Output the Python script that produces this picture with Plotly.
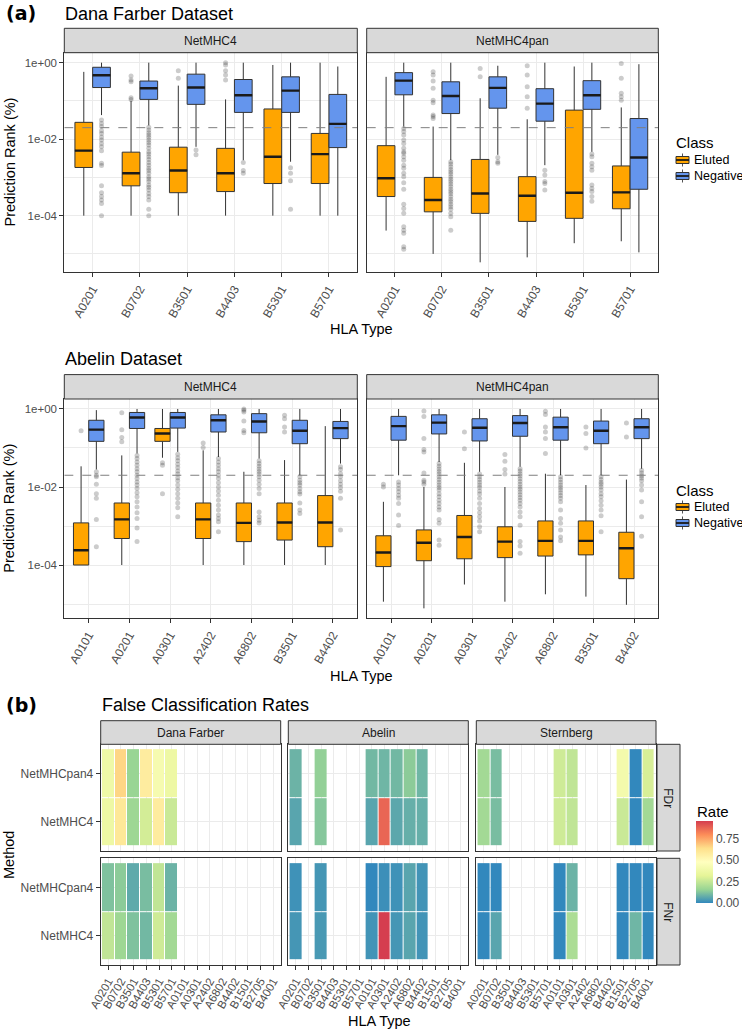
import plotly.graph_objects as go

W, H = 742, 1030

# ---------------- data ----------------
df_hla = ["A0201", "B0702", "B3501", "B4403", "B5301", "B5701"]
ab_hla = ["A0101", "A0201", "A0301", "A2402", "A6802", "B3501", "B4402"]
rank_cut = 0.02

# box stats per allele, log10(rank): lower whisker, q1, median, q3, upper whisker
df_net4_eluted = [
    [-4.0, -2.74, -2.30, -1.56, -0.24],
    [-4.0, -3.22, -2.89, -2.34, -1.0],
    [-4.0, -3.40, -2.82, -2.21, -0.6],
    [-4.0, -3.37, -2.89, -2.24, -0.96],
    [-4.0, -3.16, -2.46, -1.21, -0.06],
    [-4.0, -3.16, -2.39, -1.85, 0.0],
]
df_net4_negative = [
    [-1.37, -0.65, -0.33, -0.12, 0.0],
    [-1.64, -0.96, -0.67, -0.48, 0.0],
    [-2.20, -1.09, -0.65, -0.30, 0.0],
    [-2.55, -1.30, -0.85, -0.44, 0.0],
    [-2.59, -1.30, -0.73, -0.37, 0.0],
    [-4.0, -2.22, -1.60, -0.83, -0.10],
]
df_net4_eluted_out = [
    [],
    [-0.35, -0.45, -0.50, -0.92, -0.96],
    [-0.21, -0.41],
    [0.0, -0.06, -0.21, -0.32, -0.45],
    [],
    [],
]
df_net4_negative_out = [
    [-1.50, -1.59, -1.67, -1.78, -1.85, -1.94, -2.02, -2.11, -2.20, -2.30, -2.63, -2.69,
     -3.22, -3.40, -3.50, -3.59, -3.68, -4.0],
    [-1.69, -1.76, -1.83, -1.89, -1.95, -2.02, -2.09, -2.15, -2.24, -2.33, -2.39, -2.46,
     -2.53, -2.61, -2.68, -2.76, -2.82, -2.89, -2.98, -3.04, -3.11, -3.20, -3.26, -3.33,
     -3.42, -3.50, -3.59, -3.83, -4.0],
    [-2.28, -2.41],
    [-2.61, -2.82, -2.89],
    [-2.75, -2.89, -3.09, -3.83],
    [],
]

df_pan4_eluted = [
    [-4.39, -3.50, -3.02, -2.17, -0.37],
    [-5.00, -3.90, -3.59, -3.00, -1.67],
    [-5.22, -3.94, -3.42, -2.53, -0.93],
    [-5.09, -4.15, -3.48, -2.98, -1.48],
    [-4.72, -4.07, -3.40, -1.24, -0.10],
    [-4.67, -3.82, -3.39, -2.70, -1.17],
]
df_pan4_negative = [
    [-1.67, -0.84, -0.47, -0.26, 0.0],
    [-2.55, -1.33, -0.87, -0.50, 0.0],
    [-2.41, -1.19, -0.66, -0.37, -0.08],
    [-2.68, -1.53, -1.07, -0.68, 0.0],
    [-2.33, -1.22, -0.85, -0.47, 0.0],
    [-4.96, -3.31, -2.48, -1.46, -0.04],
]
df_pan4_eluted_out = [
    [],
    [-0.24, -0.32, -0.48, -0.67, -0.98, -1.05, -1.37, -1.41, -1.46],
    [-0.15, -0.37],
    [-0.08, -0.32, -0.63, -0.89, -1.19],
    [],
    [-0.02, -0.41, -0.80, -0.89, -0.98],
]
df_pan4_negative_out = [
    [-1.72, -1.80, -1.89, -2.02, -2.11, -2.24, -2.33, -2.37, -2.46, -2.55, -2.68, -2.76,
     -2.89, -2.98, -3.14, -3.31, -3.70, -3.81, -3.94, -4.29, -4.38, -4.46, -4.81, -4.88],
    [-2.59, -2.65, -2.72, -2.79, -2.85, -2.91, -2.98, -3.05, -3.11, -3.17, -3.24, -3.31,
     -3.37, -3.43, -3.50, -3.57, -3.63, -3.70, -3.77, -3.83, -3.94, -4.03, -4.38],
    [-2.48, -2.59, -2.63],
    [-2.81, -2.94, -3.11, -3.16, -3.33],
    [-2.39, -2.46, -2.63, -2.72, -2.81, -3.20, -3.29, -3.37, -3.50, -3.62],
    [],
]

ab_net4_eluted = [
    [-4.0, -4.0, -3.62, -2.92, -1.47],
    [-4.0, -3.32, -2.83, -2.41, -1.19],
    [-1.25, -0.83, -0.63, -0.50, 0.0],
    [-4.0, -3.32, -2.83, -2.41, -1.06],
    [-4.0, -3.40, -2.92, -2.41, -1.61],
    [-4.0, -3.36, -2.91, -2.41, -1.31],
    [-4.0, -3.53, -2.91, -2.22, -0.44],
]
ab_net4_negative = [
    [-1.55, -0.83, -0.53, -0.29, -0.03],
    [-1.14, -0.50, -0.22, -0.09, 0.0],
    [-1.10, -0.49, -0.22, -0.09, 0.0],
    [-1.23, -0.59, -0.29, -0.15, 0.0],
    [-1.27, -0.61, -0.32, -0.12, 0.0],
    [-1.70, -0.89, -0.56, -0.29, 0.0],
    [-1.40, -0.76, -0.49, -0.32, 0.0],
]
ab_net4_eluted_out = [
    [-0.56],
    [-0.10, -0.53, -0.73, -0.84],
    [-1.38, -1.44, -2.17],
    [-0.87, -0.99],
    [0.0, -0.03, -0.08, -0.31, -0.55, -0.61],
    [-0.16, -0.25, -0.46, -0.59],
    [],
]
ab_net4_negative_out = [
    [-1.61, -1.70, -1.74, -1.93, -2.17, -2.29, -2.83, -3.53],
    [-1.19, -1.27, -1.36, -1.44, -1.53, -1.61, -1.70, -1.78, -1.87, -1.95, -2.04, -2.15,
     -2.25, -2.38, -2.51, -2.66, -2.81, -3.05, -3.40],
    [-1.16, -1.25, -1.33, -1.42, -1.50, -1.59, -1.67, -1.76, -1.84, -1.95, -2.06, -2.17,
     -2.29, -2.41, -2.53, -2.76],
    [-1.27, -1.36, -1.44, -1.53, -1.61, -1.70, -1.78, -1.89, -2.00, -2.10, -2.21, -2.34,
     -2.47, -2.59, -2.72, -2.81, -2.89, -3.15],
    [-1.33, -1.40, -1.47, -1.54, -1.60, -1.67, -1.74, -1.83, -1.93, -2.04, -2.17, -2.64,
     -2.76, -2.85, -2.92],
    [-1.74, -1.83, -1.89, -1.95, -2.04, -2.12, -2.18, -2.41, -2.59, -2.68],
    [-1.48, -1.55, -1.66, -1.74, -1.84, -1.93, -2.01, -2.11, -2.29, -3.10],
]

ab_pan4_eluted = [
    [-4.94, -4.04, -3.68, -3.25, -2.38],
    [-5.11, -3.89, -3.43, -3.10, -2.00],
    [-4.50, -3.84, -3.28, -2.73, -1.38],
    [-4.94, -3.81, -3.40, -3.02, -2.00],
    [-4.75, -3.77, -3.38, -2.87, -1.66],
    [-4.81, -3.74, -3.38, -2.87, -1.95],
    [-5.02, -4.35, -3.57, -3.16, -1.81],
]
ab_pan4_negative = [
    [-1.70, -0.80, -0.44, -0.19, 0.0],
    [-1.36, -0.64, -0.35, -0.15, 0.0],
    [-1.61, -0.82, -0.48, -0.25, 0.0],
    [-1.48, -0.70, -0.36, -0.17, 0.0],
    [-1.70, -0.80, -0.47, -0.21, 0.0],
    [-1.70, -0.89, -0.56, -0.31, 0.0],
    [-1.53, -0.76, -0.47, -0.25, 0.0],
]
ab_pan4_eluted_out = [
    [-1.93, -2.00],
    [-0.05, -0.19, -0.76, -1.04, -1.10, -1.64, -1.83, -1.87, -1.93],
    [-0.59, -1.02],
    [-1.17, -1.34, -1.55, -1.67],
    [-0.06, -0.14, -0.46, -0.59, -0.76, -1.14],
    [-0.46, -0.63, -1.00],
    [-0.36, -0.72],
]
ab_pan4_negative_out = [
    [-1.87, -1.95, -2.04, -2.12, -2.21, -2.29, -2.42, -2.72, -2.99],
    [-1.40, -1.47, -1.54, -1.60, -1.67, -1.74, -1.81, -1.88, -1.95, -2.01, -2.08, -2.17,
     -2.25, -2.34, -2.42, -2.51, -2.59, -2.83, -2.93, -3.36, -3.49],
    [-1.67, -1.74, -1.81, -1.88, -1.95, -2.01, -2.10, -2.18, -2.29, -2.42, -2.55, -2.66,
     -2.76, -2.87, -3.02, -3.15],
    [-1.53, -1.59, -1.66, -1.72, -1.79, -1.86, -1.93, -2.00, -2.06, -2.13, -2.20, -2.27,
     -2.34, -2.42, -2.51, -2.64, -2.76, -2.98, -3.40, -3.51, -3.70],
    [-1.74, -1.81, -1.88, -1.95, -2.01, -2.08, -2.15, -2.22, -2.29, -2.38, -2.59, -2.81,
     -2.93, -3.10, -3.28, -3.38],
    [-1.74, -1.81, -1.88, -1.93, -2.00, -2.08, -2.17, -2.25, -2.35, -2.47, -2.59, -2.74, -3.15],
    [-1.57, -1.64, -1.71, -1.77, -1.84, -1.95, -2.08, -2.38, -2.76, -3.26],
]

# heatmap: false classification rates
hla_all = ["A0201", "B0702", "B3501", "B4403", "B5301", "B5701", "A0101",
           "A0301", "A2402", "A6802", "B4402", "B1501", "B2705", "B4001"]
methods = ["NetMHC4", "NetMHCpan4"]
N = None
df_fdr_net4 = [0.37, 0.60, 0.17, 0.28, 0.58, 0.26, N, N, N, N, N, N, N, N]
df_fdr_pan4 = [0.38, 0.66, 0.16, 0.58, 0.42, 0.37, N, N, N, N, N, N, N, N]
df_fnr_net4 = [0.24, 0.17, 0.12, 0.10, 0.27, 0.18, N, N, N, N, N, N, N, N]
df_fnr_pan4 = [0.12, 0.14, 0.07, 0.11, 0.24, 0.09, N, N, N, N, N, N, N, N]
ab_fdr_net4 = [0.06, N, 0.13, N, N, N, 0.06, 0.88, 0.065, 0.08, 0.08, N, N, N]
ab_fdr_pan4 = [0.09, N, 0.15, N, N, N, 0.10, 0.095, 0.10, 0.14, 0.095, N, N, N]
ab_fnr_net4 = [0.03, N, 0.035, N, N, N, 0.025, 0.96, 0.03, 0.06, 0.025, N, N, N]
ab_fnr_pan4 = [0.02, N, 0.03, N, N, N, 0.0, 0.015, 0.02, 0.06, 0.025, N, N, N]
st_fdr_net4 = [0.18, 0.11, N, N, N, N, 0.27, 0.24, N, N, N, 0.26, 0.0, 0.18]
st_fdr_pan4 = [0.18, 0.11, N, N, N, N, 0.27, 0.24, N, N, N, 0.40, 0.0, 0.29]
st_fnr_net4 = [0.0, 0.06, N, N, N, N, 0.0, 0.20, N, N, N, 0.0, 0.095, 0.0]
st_fnr_pan4 = [0.0, 0.0, N, N, N, N, 0.0, 0.09, N, N, N, 0.0, 0.0, 0.0]

# ---------------- style ----------------
FONT = "Liberation Sans"
ORANGE = "#FFA500"
BLUE = "#6495ED"
EDGE = "#333333"
GRID = "#EBEBEB"
TXT = "#4D4D4D"
SPECTRAL = ["#3288BD", "#99D594", "#E6F598", "#FFFFBF", "#FEE08B", "#FC8D59", "#D53E4F"]


def fx(p):
    return p / W


def fy(p):
    return 1 - p / H


def ids(k):
    s = "" if k == 1 else str(k)
    return "x" + s, "y" + s, "xaxis" + s, "yaxis" + s


def axis(**kw):
    d = dict(showline=True, mirror=True, linecolor=EDGE, linewidth=1, automargin=False,
             showgrid=True, gridcolor=GRID, gridwidth=1, zeroline=False,
             ticks="outside", ticklen=4, tickwidth=1, tickcolor=EDGE,
             tickfont=dict(family=FONT, size=11.5, color=TXT))
    d.update(kw)
    return d


fig = go.Figure()
layout = {}
shapes = []
notes = []


def note(text, x, y, size, color="black", xanchor="center", **kw):
    notes.append(dict(text=text, x=fx(x), y=fy(y), xref="paper", yref="paper",
                      xanchor=xanchor, yanchor="middle", showarrow=False,
                      font=dict(family=kw.pop("family", FONT), size=size, color=color), **kw))


def rect(x0, x1, y0, y1, fill, lw=1):
    shapes.append(dict(type="rect", xref="paper", yref="paper", x0=fx(x0), x1=fx(x1),
                       y0=fy(y1), y1=fy(y0), fillcolor=fill,
                       line=dict(color=EDGE, width=lw), layer="above"))


def seg(x0, x1, y0, y1, lw=1, color=EDGE):
    shapes.append(dict(type="line", xref="paper", yref="paper", x0=fx(x0), x1=fx(x1),
                       y0=fy(y0), y1=fy(y1), line=dict(color=color, width=lw)))


def strip(x0, x1, y0, y1):
    rect(x0, x1, y0, y1, "#D9D9D9")


def class_legend(top):
    # ggplot-like key: title, then one box glyph per class
    note("Class", 674, top, 15, xanchor="left")
    for j, (name, color) in enumerate((("Eluted", ORANGE), ("Negative", BLUE))):
        cy = top + 17 + 16 * j
        seg(682.5, 682.5, cy - 6.5, cy + 6.5, 1, "#555555")
        rect(676, 689, cy - 3.5, cy + 3.5, color)
        seg(676, 689, cy, cy, 1.8, "#1A1A1A")
        note(name, 692, cy, 12.5, xanchor="left")


COLS = [(64.3, 357.3), (366.7, 658.3)]


def box_panel(k, hla, eluted, negative, el_out, neg_out, col, ypx, ylim, label):
    xa, ya, xk, yk = ids(k)
    xpx = COLS[col]
    n = len(hla)
    bw_px = (xpx[1] - xpx[0]) / (n + 0.2) * 0.375
    for stats, outs, color, name, off in ((eluted, el_out, ORANGE, "Eluted", -0.1875),
                                          (negative, neg_out, BLUE, "Negative", 0.1875)):
        pos = [i + 1 + off for i in range(n)]
        fig.add_trace(go.Box(
            x=pos, lowerfence=[10 ** s[0] for s in stats], q1=[10 ** s[1] for s in stats],
            median=[10 ** s[2] for s in stats], q3=[10 ** s[3] for s in stats],
            upperfence=[10 ** s[4] for s in stats], width=0.375, whiskerwidth=0,
            fillcolor=color, line=dict(color=EDGE, width=1), boxpoints=False,
            name=name, showlegend=False, xaxis=xa, yaxis=ya, hoverinfo="skip"))
        fig.add_trace(go.Scatter(
            x=[p for p, o in zip(pos, outs) for _ in o], y=[10 ** v for o in outs for v in o],
            mode="markers", marker=dict(size=5, color="rgba(0,0,0,0.2)", line=dict(width=0)),
            showlegend=False, xaxis=xa, yaxis=ya, hoverinfo="skip"))
        # thick median bar (line-ew symbol is 1.4x its size long)
        fig.add_trace(go.Scatter(
            x=pos, y=[10 ** s[2] for s in stats], mode="markers",
            marker=dict(symbol="line-ew", size=bw_px / 1.4, line=dict(width=2.4, color="#1A1A1A")),
            showlegend=False, xaxis=xa, yaxis=ya, hoverinfo="skip"))
    fig.add_trace(go.Scatter(x=[0.4, n + 0.6], y=[rank_cut, rank_cut], mode="lines",
                             line=dict(color="#7F7F7F", width=1, dash="dash"),
                             showlegend=False, xaxis=xa, yaxis=ya, hoverinfo="skip"))
    layout[xk] = axis(domain=[fx(xpx[0]), fx(xpx[1])], range=[0.4, n + 0.6], anchor=ya,
                      tickvals=list(range(1, n + 1)), ticktext=hla, tickangle=-60,
                      tickfont=dict(family=FONT, size=12, color=TXT))
    layout[yk] = axis(domain=[fy(ypx[1]), fy(ypx[0])], type="log", range=ylim, anchor=xa,
                      tickvals=[1, 1e-2, 1e-4], ticktext=["1e+00", "1e-02", "1e-04"],
                      showticklabels=(col == 0), ticks="outside" if col == 0 else "",
                      minor=dict(tickvals=[1e-1, 1e-3, 1e-5], showgrid=True,
                                 gridcolor=GRID, gridwidth=0.5, ticks=""))
    strip(xpx[0], xpx[1], ypx[0] - 24.4, ypx[0])
    note(label, (xpx[0] + xpx[1]) / 2, ypx[0] - 12.2, 12, "#1A1A1A")


def log_range(*groups):
    vals = [v for g in groups for row in g for v in row]
    lo, hi = min(vals), max(vals)
    pad = (hi - lo) * 0.05
    return [lo - pad, hi + pad]


rng_a = log_range(df_net4_eluted, df_net4_negative, df_pan4_eluted, df_pan4_negative,
                  df_net4_eluted_out, df_net4_negative_out, df_pan4_eluted_out, df_pan4_negative_out)
rng_b = log_range(ab_net4_eluted, ab_net4_negative, ab_pan4_eluted, ab_pan4_negative,
                  ab_net4_eluted_out, ab_net4_negative_out, ab_pan4_eluted_out, ab_pan4_negative_out)

ROW_A = (52.7, 272.3)
ROW_B = (399.0, 618.3)
box_panel(1, df_hla, df_net4_eluted, df_net4_negative, df_net4_eluted_out, df_net4_negative_out,
          0, ROW_A, rng_a, "NetMHC4")
box_panel(2, df_hla, df_pan4_eluted, df_pan4_negative, df_pan4_eluted_out, df_pan4_negative_out,
          1, ROW_A, rng_a, "NetMHC4pan")
box_panel(3, ab_hla, ab_net4_eluted, ab_net4_negative, ab_net4_eluted_out, ab_net4_negative_out,
          0, ROW_B, rng_b, "NetMHC4")
box_panel(4, ab_hla, ab_pan4_eluted, ab_pan4_negative, ab_pan4_eluted_out, ab_pan4_negative_out,
          1, ROW_B, rng_b, "NetMHC4pan")
class_legend(143)
class_legend(490)

# ---------------- heatmaps ----------------
HCOLS = [(100.7, 280.7), (288.3, 468.3), (476.3, 656.0)]
HROWS = [(744.3, 851.0), (858.3, 965.0)]
heat = [
    ("Dana Farber", "FDr", df_fdr_net4, df_fdr_pan4),
    ("Abelin", "FDr", ab_fdr_net4, ab_fdr_pan4),
    ("Sternberg", "FDr", st_fdr_net4, st_fdr_pan4),
    ("Dana Farber", "FNr", df_fnr_net4, df_fnr_pan4),
    ("Abelin", "FNr", ab_fnr_net4, ab_fnr_pan4),
    ("Sternberg", "FNr", st_fnr_net4, st_fnr_pan4),
]
rate_max = max(v for _, _, a, b in heat for v in a + b if v is not None)

for i, (dset, metric, net4, pan4) in enumerate(heat):
    k = 5 + i
    xa, ya, xk, yk = ids(k)
    r, c = divmod(i, 3)
    xpx, ypx = HCOLS[c], HROWS[r]
    fig.add_trace(go.Heatmap(x=hla_all, y=methods, z=[net4, pan4], coloraxis="coloraxis",
                             xgap=1, ygap=1, hoverongaps=False, xaxis=xa, yaxis=ya))
    layout[xk] = axis(domain=[fx(xpx[0]), fx(xpx[1])], anchor=ya, type="category",
                      categoryorder="array", categoryarray=hla_all, range=[-0.6, 13.6],
                      tickmode="array", tickvals=hla_all, ticktext=hla_all,
                      tickangle=-60, showticklabels=(r == 1), ticks="outside" if r == 1 else "",
                      tickfont=dict(family=FONT, size=11.5, color=TXT))
    layout[yk] = axis(domain=[fy(ypx[1]), fy(ypx[0])], anchor=xa, type="category",
                      categoryorder="array", categoryarray=methods, range=[-0.6, 1.6],
                      showticklabels=(c == 0), ticks="outside" if c == 0 else "",
                      tickfont=dict(family=FONT, size=12, color=TXT))
    if r == 0:
        strip(xpx[0], xpx[1], 720.7, 744.3)
        note(dset, (xpx[0] + xpx[1]) / 2, 732.5, 12, "#1A1A1A")
    if c == 2:
        strip(657.0, 680.0, ypx[0], ypx[1])
        note(metric, 668.5, (ypx[0] + ypx[1]) / 2, 12, "#1A1A1A", textangle=90)

# ---------------- titles ----------------
note("<b>(a)</b>", 4, 13, 19, family="DejaVu Sans", xanchor="left")
note("Dana Farber Dataset", 63, 13.5, 18, xanchor="left")
note("Abelin Dataset", 63, 359, 18, xanchor="left")
note("<b>(b)</b>", 4, 705, 19, family="DejaVu Sans", xanchor="left")
note("False Classification Rates", 100, 705, 18, xanchor="left")
note("Prediction Rank (%)", 9, sum(ROW_A) / 2, 14.5, textangle=-90)
note("Prediction Rank (%)", 9, sum(ROW_B) / 2, 14.5, textangle=-90)
note("HLA Type", 361, 329, 14.5)
note("HLA Type", 361, 676, 14.5)
note("Method", 9, 855, 14.5, textangle=-90)
note("HLA Type", 379, 1021, 14.5)
note("Rate", 695, 811, 15, xanchor="left")

fig.update_layout(
    width=W, height=H, margin=dict(l=0, r=0, t=0, b=0, autoexpand=False), autosize=False,
    paper_bgcolor="white", plot_bgcolor="white", font=dict(family=FONT), showlegend=False,
    coloraxis=dict(colorscale=[[j / 6, col] for j, col in enumerate(SPECTRAL)],
                   cmin=0, cmax=rate_max,
                   colorbar=dict(x=fx(696), xanchor="left", y=fy(862), yanchor="middle",
                                 len=82, lenmode="pixels", thickness=17, outlinewidth=0,
                                 xpad=0, ypad=0,
                                 tickvals=[0, 0.25, 0.5, 0.75],
                                 ticktext=["0.00", "0.25", "0.50", "0.75"],
                                 tickfont=dict(family=FONT, size=12, color=TXT), ticks="")),
    shapes=shapes, annotations=notes, **layout)

# the page body has a default 8px margin; drop it so the figure sits at the window corner
fig.write_html("out.html", config={"displayModeBar": False},
               post_script="document.body.style.margin='0px';")
